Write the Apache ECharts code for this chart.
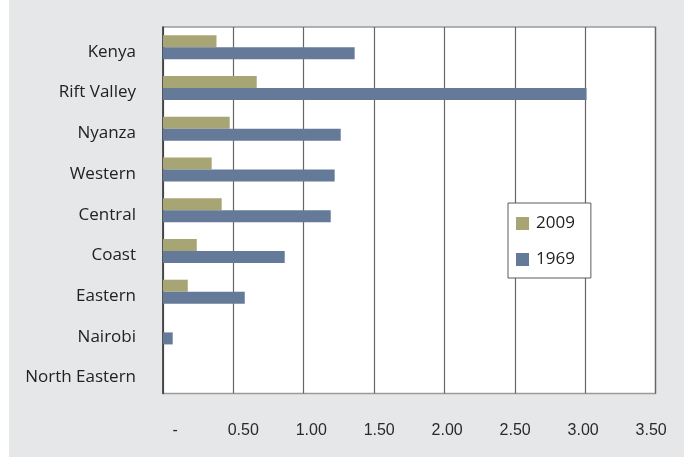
<!DOCTYPE html>
<html>
<head>
<meta charset="utf-8">
<style>
  html, body { margin: 0; padding: 0; background: #ffffff; }
  #chart { width: 684px; height: 458px; }
</style>
<script src="https://cdn.jsdelivr.net/npm/echarts@6/dist/echarts.min.js"></script>
</head>
<body>
<div id="chart"></div>
<script>
// Regions, top to bottom
const regions = ['Kenya', 'Rift Valley', 'Nyanza', 'Western', 'Central', 'Coast', 'Eastern', 'Nairobi', 'North Eastern'];
// Values per region for each census year
const values2009 = [0.38, 0.666, 0.474, 0.346, 0.417, 0.24, 0.176, 0, 0];
const values1969 = [1.362, 3.01, 1.263, 1.22, 1.192, 0.865, 0.581, 0.069, 0];
// Horizontal axis ticks and their printed labels
const tickValues = [0, 0.5, 1, 1.5, 2, 2.5, 3, 3.5];
const tickLabels = ['-', '0.50', '1.00', '1.50', '2.00', '2.50', '3.00', '3.50'];

const chart = echarts.init(document.getElementById('chart'), null, { renderer: 'canvas' });

const labelFont = '"Open Sans", sans-serif';

chart.setOption({
  animation: false,
  backgroundColor: '#ffffff',
  graphic: [{
    type: 'rect',
    left: 9, top: 0, z: -100,
    shape: { width: 675, height: 457 },
    style: { fill: '#e6e7e9' }
  }],
  grid: {
    left: 163, top: 27, right: 28.5, bottom: 64.5,
    show: true,
    backgroundColor: '#ffffff',
    borderColor: '#9a9a9a',
    borderWidth: 1.5
  },
  legend: {
    data: ['2009', '1969'],
    orient: 'vertical',
    left: 508, top: 203,
    padding: [12, 16, 10, 8],
    itemGap: 19,
    itemWidth: 13, itemHeight: 13,
    backgroundColor: '#ffffff',
    borderColor: '#5a5a5a',
    borderWidth: 1,
    borderRadius: 0,
    icon: 'rect',
    textStyle: { fontFamily: labelFont, fontSize: 17, color: '#222222', padding: [0, 0, 0, 2] }
  },
  xAxis: [{
    type: 'value',
    position: 'top',
    min: 0, max: 3.5, interval: 0.5,
    axisLine: { show: false },
    axisTick: { show: false },
    axisLabel: { show: false },
    splitLine: { show: true, lineStyle: { color: '#666666', width: 1.2 } }
  }, {
    type: 'value',
    position: 'bottom',
    min: -0.09, max: 3.532,
    axisLine: { show: false },
    axisTick: { show: false },
    splitLine: { show: false },
    axisLabel: {
      customValues: tickValues,
      margin: 29,
      fontFamily: '"Liberation Sans Narrow", "Liberation Sans", sans-serif',
      fontSize: 16,
      color: '#2a2a2a',
      formatter: function (v) {
        const i = tickValues.findIndex(function (t) { return Math.abs(t - v) < 1e-6; });
        return i >= 0 ? tickLabels[i] : '';
      }
    }
  }],
  yAxis: {
    type: 'category',
    data: regions,
    inverse: true,
    axisLine: { show: true, lineStyle: { color: '#3a3a3a', width: 1.5 } },
    axisTick: { show: false },
    axisLabel: {
      fontFamily: labelFont, fontSize: 17, color: '#222222', margin: 27,
      verticalAlign: 'top', lineHeight: 9
    },
    splitLine: { show: false }
  },
  series: [{
    name: '2009',
    type: 'bar',
    xAxisIndex: 0,
    data: values2009,
    barWidth: 12,
    barGap: '0%',
    itemStyle: { color: '#a8a574' }
  }, {
    name: '1969',
    type: 'bar',
    xAxisIndex: 0,
    data: values1969,
    barWidth: 12,
    barGap: '0%',
    itemStyle: { color: '#647a98' }
  }]
});
</script>
</body>
</html>
